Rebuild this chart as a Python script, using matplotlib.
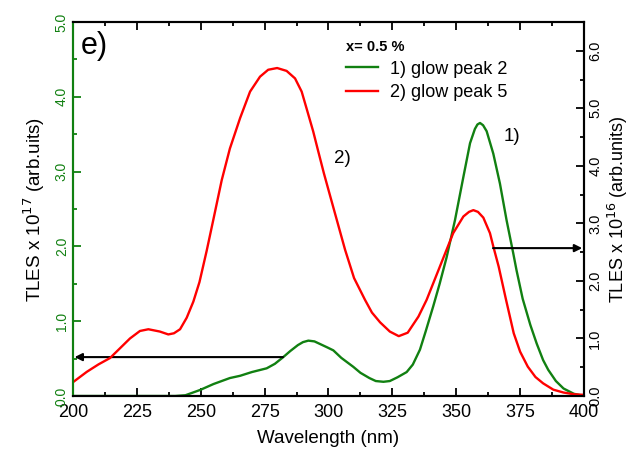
"""TLES spectra of glow peaks 2 and 5 (x = 0.5 %), twin y axes."""

import matplotlib

matplotlib.use("Agg")
import matplotlib.pyplot as plt
from matplotlib.ticker import MultipleLocator, FormatStrFormatter

plt.rcParams["font.family"] = ["Liberation Sans", "DejaVu Sans"]

# glow peak 2 -> left axis (x 10^17)
wl_peak2 = [200, 210, 220, 230, 240, 244, 249.7, 255, 261.4, 265.4, 270, 275.8, 279,
            282.3, 285, 288, 290, 292.1, 294.5, 297, 299.5, 301.9, 305, 309.7, 312.5,
            316, 318.5, 321.5, 324, 327, 330.6, 333, 335.8, 338, 341, 343.5, 346.2,
            349.5, 352.8, 355.4, 357.3, 358.3, 359.3, 360.5, 361.9, 364.5, 367.1,
            369.7, 372.3, 373.6, 376, 379, 381.5, 384, 386, 389, 392, 396, 400]
tles_peak2 = [0, 0, 0, 0, 0, 0.01, 0.08, 0.16, 0.24, 0.27, 0.32, 0.37, 0.43,
              0.52, 0.60, 0.68, 0.72, 0.74, 0.73, 0.69, 0.65, 0.61, 0.51, 0.39, 0.31,
              0.24, 0.20, 0.19, 0.20, 0.25, 0.32, 0.42, 0.62, 0.86, 1.20, 1.50, 1.85,
              2.35, 2.93, 3.38, 3.57, 3.63, 3.65, 3.62, 3.54, 3.24, 2.84,
              2.35, 1.91, 1.68, 1.30, 0.95, 0.70, 0.48, 0.35, 0.20, 0.10, 0.03, 0.0]

# glow peak 5 -> right axis (x 10^16)
wl_peak5 = [200, 205.4, 210, 214.5, 218.4, 222.3, 226.2, 229.5, 234, 237.3, 239.5,
            241.9, 244.5, 247.1, 249.5, 252.3, 255, 258.2, 261.4, 265.4, 269.3, 273.2,
            276.4, 279.9, 283.6, 286.9, 289.5, 291.4, 294, 296, 298.2, 300.5, 303,
            306.5, 310, 314.3, 317, 320.2, 324, 327.5, 331, 335.2, 338.4, 343.6,
            348.8, 352.8, 355, 356.7, 358.5, 360.6, 363.2, 364.5, 366.6, 369.5, 372.5,
            375, 378, 381, 384, 388, 392, 396, 400]
tles_peak5 = [0.24, 0.42, 0.55, 0.66, 0.83, 1.00, 1.13, 1.16, 1.12, 1.07, 1.09,
              1.16, 1.36, 1.64, 1.98, 2.52, 3.08, 3.75, 4.30, 4.83, 5.29, 5.55,
              5.67, 5.70, 5.65, 5.52, 5.29, 5.00, 4.60, 4.25, 3.87, 3.50, 3.10,
              2.54, 2.05, 1.67, 1.45, 1.28, 1.12, 1.04, 1.10, 1.38, 1.67, 2.25,
              2.83, 3.12, 3.20, 3.23, 3.20, 3.10, 2.83, 2.60, 2.25, 1.67, 1.09,
              0.77, 0.51, 0.33, 0.22, 0.11, 0.06, 0.03, 0.02]

GREEN = "#118011"
RED = "#ff0000"

fig = plt.figure(figsize=(6.31, 4.65), dpi=100, facecolor="white")
ax = fig.add_axes([0.1157, 0.1484, 0.8098, 0.8043])
ax2 = ax.twinx()

(l1,) = ax.plot(wl_peak2, tles_peak2, color=GREEN, lw=1.7, label="1) glow peak 2",
                solid_joinstyle="round")
(l2,) = ax2.plot(wl_peak5, tles_peak5, color=RED, lw=1.7, label="2) glow peak 5",
                 solid_joinstyle="round")

ax.set_xlim(200, 400)
ax.set_ylim(0, 5)
ax2.set_ylim(0, 6.5)

ax.xaxis.set_major_locator(MultipleLocator(25))
ax.xaxis.set_minor_locator(MultipleLocator(12.5))
for a in (ax, ax2):
    a.yaxis.set_major_locator(MultipleLocator(1))
    a.yaxis.set_minor_locator(MultipleLocator(0.5))
    a.yaxis.set_major_formatter(FormatStrFormatter("%.1f"))
    for s in a.spines.values():
        s.set_linewidth(1.5)
ax.spines["left"].set_color(GREEN)
ax2.spines["left"].set_color(GREEN)

ax.tick_params(axis="x", which="both", direction="in", top=True, labelsize=13,
               width=1.3, pad=6)
ax.tick_params(axis="x", which="major", length=6)
ax.tick_params(axis="x", which="minor", length=3)
ax.tick_params(axis="y", which="both", direction="in", colors=GREEN, labelsize=10,
               width=1.3, labelrotation=90, pad=3)
ax.tick_params(axis="y", which="major", length=6)
ax.tick_params(axis="y", which="minor", length=3)
ax2.tick_params(axis="y", which="both", direction="in", labelsize=10.5, width=1.3,
                labelrotation=90, pad=3)
ax2.tick_params(axis="y", which="major", length=6)
ax2.tick_params(axis="y", which="minor", length=3)
for lbl in ax.get_yticklabels() + ax2.get_yticklabels():
    lbl.set_va("center")

ax.set_xlabel("Wavelength (nm)", fontsize=13.5, labelpad=6)
ax.set_ylabel(r"TLES x 10$^{17}$ (arb.uits)", fontsize=13.5, labelpad=6)
ax2.set_ylabel(r"TLES x 10$^{16}$ (arb.units)", fontsize=13)
ax2.yaxis.set_label_coords(1.043, 0.5)

ax.text(0.015, 0.975, "e)", transform=ax.transAxes, fontsize=22, va="top", ha="left")
ax.text(305.5, 3.17, "2)", fontsize=13.5, ha="center", va="center")
ax.text(371.8, 3.47, "1)", fontsize=13.5, ha="center", va="center")

# arrows pointing to the axis each curve belongs to
ax.annotate("", xy=(200.6, 0.52), xytext=(282.2, 0.52),
            arrowprops=dict(arrowstyle="-|>", color="black", lw=1.5,
                            mutation_scale=11, shrinkA=0, shrinkB=0))
ax2.annotate("", xy=(399.3, 2.57), xytext=(364.4, 2.57),
             arrowprops=dict(arrowstyle="-|>", color="black", lw=1.5,
                             mutation_scale=11, shrinkA=0, shrinkB=0))

leg = ax.legend(handles=[l1, l2], loc="upper left", bbox_to_anchor=(0.51, 0.985),
                frameon=False, fontsize=13, title="x= 0.5 %", handlelength=1.75,
                handletextpad=0.65, labelspacing=0.35, borderpad=0.2)
leg.get_title().set_fontweight("bold")
leg.get_title().set_fontsize(10.5)
leg._legend_box.align = "left"

fig.savefig("out.png", dpi=100, facecolor="white")
